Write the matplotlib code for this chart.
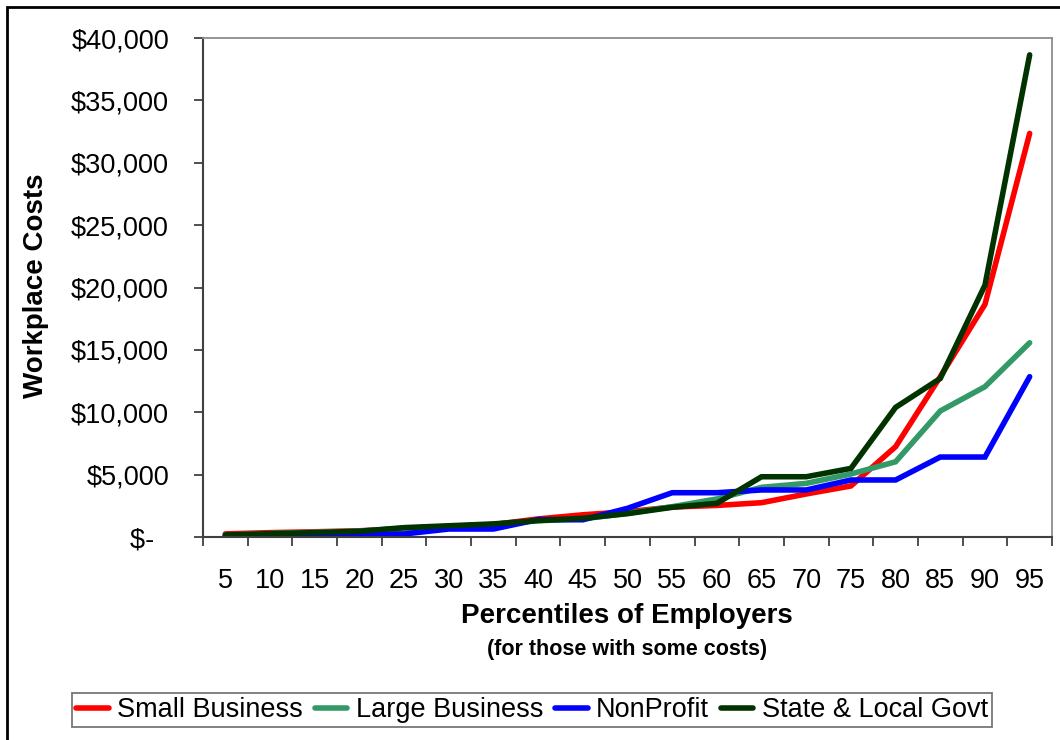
import matplotlib
matplotlib.use("Agg")
import matplotlib.pyplot as plt
from matplotlib.patches import Rectangle
from matplotlib.ticker import FuncFormatter, MultipleLocator

plt.rcParams['font.family'] = ['Liberation Sans', 'DejaVu Sans']

percentiles = [5, 10, 15, 20, 25, 30, 35, 40, 45, 50, 55, 60, 65, 70, 75, 80, 85, 90, 95]
small_business = [250, 350, 420, 500, 650, 850, 1000, 1450, 1780, 2030, 2400, 2530, 2750,
                  3450, 4090, 7240, 12850, 18650, 32350]
large_business = [150, 280, 380, 480, 700, 850, 1000, 1300, 1450, 1900, 2430, 3050, 3980,
                  4300, 5050, 6030, 10100, 12050, 15570]
nonprofit = [100, 130, 160, 190, 240, 640, 640, 1400, 1380, 2300, 3550, 3550, 3770,
             3770, 4570, 4570, 6410, 6410, 12850]
state_local = [160, 270, 350, 460, 750, 900, 1050, 1320, 1500, 1870, 2380, 2700, 4830,
               4830, 5500, 10390, 12710, 20190, 38650]

series = [
    ("Small Business", small_business, "#ff0000"),
    ("Large Business", large_business, "#339966"),
    ("NonProfit", nonprofit, "#0000ff"),
    ("State & Local Govt", state_local, "#003300"),
]

fig = plt.figure(figsize=(10.6, 7.4), dpi=100)
ax = fig.add_axes([203 / 1060, 1 - 537 / 740, (1052 - 203) / 1060, (537 - 38) / 740])

pos = list(range(len(percentiles)))
for name, vals, col in series:
    ax.plot(pos, vals, color=col, lw=4, label=name, solid_capstyle='round',
            solid_joinstyle='miter')

ax.set_xlim(-0.5, len(percentiles) - 0.5)
ax.set_ylim(0, 40000)

ax.set_xticks(pos)
ax.set_xticklabels([str(p) for p in percentiles])
ax.set_xticks([p - 0.5 for p in range(len(percentiles) + 1)], minor=True)
ax.tick_params(axis='x', which='major', length=0, pad=22, labelsize=19.5)
ax.tick_params(axis='x', which='minor', length=6.5, width=1.3, color='#404040')

ax.yaxis.set_major_locator(MultipleLocator(5000))
ax.yaxis.set_major_formatter(FuncFormatter(lambda v, p: "$-  " if v == 0 else f"${v:,.0f}"))
ax.tick_params(axis='y', length=6.5, width=1.3, color='#404040', pad=18, labelsize=19.5)

for s in ['left', 'bottom']:
    ax.spines[s].set_color('#404040')
    ax.spines[s].set_linewidth(1.5)
for s in ['top', 'right']:
    ax.spines[s].set_color('#8c8c8c')
    ax.spines[s].set_linewidth(1.3)

fig.text(36 / 1060, 1 - 286 / 740, "Workplace Costs", rotation=90, ha='center', va='center',
         fontsize=20, fontweight='bold')
fig.text(627 / 1060, 1 - 616 / 740, "Percentiles of Employers", ha='center', va='center',
         fontsize=20, fontweight='bold')
fig.text(627 / 1060, 1 - 650 / 740, "(for those with some costs)", ha='center', va='center',
         fontsize=15.5, fontweight='bold')

leg = fig.legend(loc='center', bbox_to_anchor=(532 / 1060, 1 - 710 / 740), ncol=4,
                 fontsize=19.5, frameon=True, fancybox=False, handlelength=1.2,
                 handletextpad=0.3, columnspacing=0.45, borderpad=0.15, borderaxespad=0)
leg.get_frame().set_edgecolor('#555555')
leg.get_frame().set_linewidth(1.3)

# outer chart border (cropped at right and bottom)
fig.patches.append(Rectangle((7 / 1060, -0.1), 1.2, 1 - 7 / 740 + 0.1, transform=fig.transFigure,
                             fill=False, edgecolor='black', lw=2))

fig.savefig("out.png", dpi=100)
